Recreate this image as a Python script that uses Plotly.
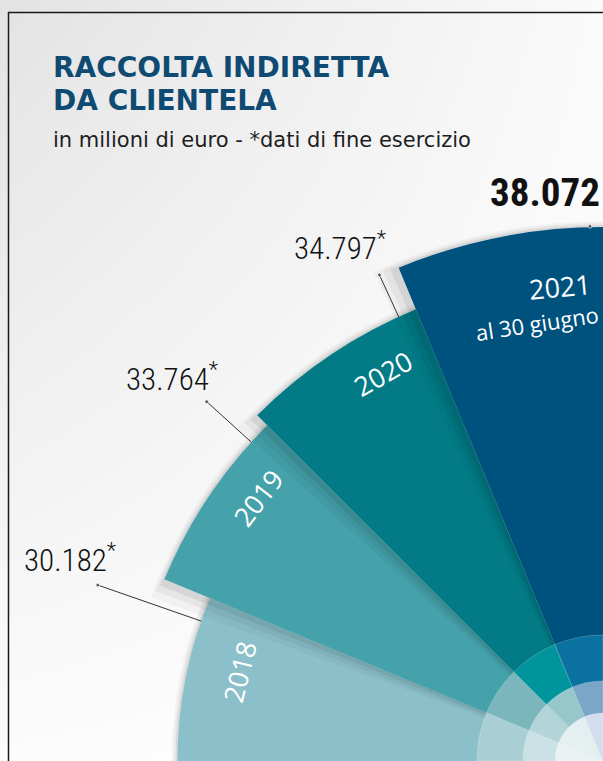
import math
import plotly.graph_objects as go

# ---------------- data ----------------
YEARS = ["2018", "2019", "2020", "2021"]
VALUES = [30182, 33764, 34797, 38072]
VALUE_LABELS = ["30.182<sup>*</sup>", "33.764<sup>*</sup>", "34.797<sup>*</sup>", "<b>38.072</b>"]
SUBLABELS = ["", "", "", "al 30 giugno"]
TITLE_LINES = ["RACCOLTA INDIRETTA", "DA CLIENTELA"]
SUBTITLE = "in milioni di euro - *dati di fine esercizio"

# ---------------- style ----------------
W, H = 603, 761
CX, CY = 603, 761          # pixel centre of the quarter-rose (bottom-right corner)
R_PX = 600                 # pixel radius of the polar domain
PX_PER_UNIT = 0.013735
R0 = -800
RMAX = R0 + R_PX / PX_PER_UNIT

SECTOR = 22.5
THETA = [168.75, 146.25, 123.75, 101.25]
COLORS = ["#8bbfca", "#45a1aa", "#027b86", "#00527e"]
RINGS_PX = [126, 80, 48]
RING_COLORS = [
    ["#a9cfd5", "#7ab6bc", "#00949d", "#0a71a1"],
    ["#c9e1e4", "#b3d5d8", "#98c7cb", "#7ba6c8"],
    ["#eaf2f3", "#e6f0f1", "#e3eff0", "#d4ddee"],
]
LEADER_THETA = [160.8, 137.8, 114.7, 91.4]
LEADER_OUT_PX = 535
LABEL_THETA = [159.2, 138.4, 117.1, 95.8]
LABEL_R_PX = [570, 577, 578, 571]
YEAR_THETA = [166.2, 142.6, 119.6, 95.2]
YEAR_R_PX = [374, 434, 446, 476]
SUB_THETA = 98.6
SUB_R_PX = 443

NUM_FONT = "Roboto Condensed, Roboto, sans-serif"
TITLE_FONT = "DejaVu Sans, Open Sans, sans-serif"
TXT_FONT = "Open Sans, Lato, sans-serif"


def px2r(px):
    return R0 + px / R_PX * (RMAX - R0)


def pol2paper(theta_deg, r_px):
    t = math.radians(theta_deg)
    x = CX + r_px * math.cos(t)
    y = CY - r_px * math.sin(t)
    return x / W, 1 - y / H


fig = go.Figure()

# background gradient
fig.add_trace(go.Heatmap(
    z=[[227, 250], [252, 255]], x=[0, W], y=[0, H], zsmooth="best",
    colorscale=[[0, "rgb(227,227,228)"], [1, "rgb(255,255,255)"]],
    zmin=227, zmax=255, showscale=False, hoverinfo="skip",
    xaxis="x", yaxis="y"))

# soft shadows under each sector, then the sector itself
for i in range(len(VALUES)):
    for dw, dr, a in [(2.6, 6, 0.03), (1.7, 4, 0.045), (0.9, 2, 0.065)]:
        fig.add_trace(go.Barpolar(
            r=[VALUES[i] - R0 + (dr / PX_PER_UNIT)], base=[R0],
            theta=[THETA[i] + dw / 2], width=[SECTOR + dw],
            marker=dict(color=f"rgba(0,0,0,{a})", line=dict(width=0)),
            hoverinfo="skip", showlegend=False))
    fig.add_trace(go.Barpolar(
        r=[VALUES[i] - R0], base=[R0], theta=[THETA[i]], width=[SECTOR],
        marker=dict(color=COLORS[i], line=dict(width=0)),
        name=YEARS[i], hoverinfo="skip", showlegend=False))

# inner rings
for ring_px, cols in zip(RINGS_PX, RING_COLORS):
    rr = px2r(ring_px) - R0
    fig.add_trace(go.Barpolar(
        r=[rr] * 4, base=[R0] * 4, theta=THETA, width=[SECTOR] * 4,
        marker=dict(color=cols, line=dict(width=0.6, color="rgba(255,255,255,0.35)")),
        hoverinfo="skip", showlegend=False))

# leader lines
for i in range(len(VALUES)):
    fig.add_trace(go.Scatterpolar(
        r=[VALUES[i], px2r(LEADER_OUT_PX)], theta=[LEADER_THETA[i]] * 2,
        mode="lines+markers",
        line=dict(color="#333333", width=1),
        marker=dict(size=[0, 4], color="#333333"),
        cliponaxis=False, hoverinfo="skip", showlegend=False))

fig.update_layout(
    width=W, height=H, margin=dict(l=0, r=0, t=0, b=0),
    paper_bgcolor="white", plot_bgcolor="rgba(0,0,0,0)",
    xaxis=dict(domain=[0, 1], range=[0, W], visible=False, fixedrange=True),
    yaxis=dict(domain=[0, 1], range=[H, 0], visible=False, fixedrange=True),
    polar=dict(
        domain=dict(x=[(CX - R_PX) / W, CX / W], y=[0, R_PX / H]),
        sector=[90, 180], bgcolor="rgba(0,0,0,0)", hole=0,
        radialaxis=dict(range=[R0, RMAX], visible=False, showgrid=False),
        angularaxis=dict(visible=False, showgrid=False, rotation=0, direction="counterclockwise"),
    ),
    barmode="overlay",
    showlegend=False,
)

ann = []
# title
for line, ypx in zip(TITLE_LINES, [68, 101]):
    ann.append(dict(x=51 / W, y=1 - ypx / H, xref="paper", yref="paper", xanchor="left", yanchor="middle",
                    text=line, showarrow=False,
                    font=dict(family=TITLE_FONT, size=28, color="#0e4a72", weight=700)))
ann.append(dict(x=51 / W, y=1 - 140 / H, xref="paper", yref="paper", xanchor="left", yanchor="middle",
                text=SUBTITLE, showarrow=False,
                font=dict(family=TITLE_FONT, size=21, color="#1e1e1e")))

# value labels
for i in range(len(VALUES)):
    x, y = pol2paper(LABEL_THETA[i], LABEL_R_PX[i])
    bold = i == 3
    ann.append(dict(x=x, y=y, xref="paper", yref="paper", xanchor="center", yanchor="middle",
                    text=VALUE_LABELS[i], showarrow=False,
                    font=dict(family=NUM_FONT, size=39 if bold else 31, color="#111111",
                              weight=700 if bold else 300)))

# year labels inside sectors
for i in range(len(VALUES)):
    x, y = pol2paper(YEAR_THETA[i], YEAR_R_PX[i])
    ann.append(dict(x=x, y=y, xref="paper", yref="paper", xanchor="center", yanchor="middle",
                    text=YEARS[i], showarrow=False, textangle=-(YEAR_THETA[i] - 90),
                    font=dict(family=TXT_FONT, size=27, color="white")))
x, y = pol2paper(SUB_THETA, SUB_R_PX)
ann.append(dict(x=x, y=y, xref="paper", yref="paper", xanchor="center", yanchor="middle",
                text=SUBLABELS[3], showarrow=False, textangle=-(SUB_THETA - 90),
                font=dict(family=TXT_FONT, size=22, color="white")))
fig.update_layout(annotations=ann)

# frame lines
fig.update_layout(shapes=[
    dict(type="line", xref="paper", yref="paper", x0=8.5 / W, x1=8.5 / W, y0=1 - 12 / H, y1=-0.01,
         line=dict(color="#1a1a1a", width=1.5)),
    dict(type="line", xref="paper", yref="paper", x0=8 / W, x1=1.01, y0=1 - 12.5 / H, y1=1 - 12.5 / H,
         line=dict(color="#1a1a1a", width=1.5)),
])

fig.write_html("out.html", config={"displayModeBar": False},
               post_script="document.body.style.margin='0px';")
